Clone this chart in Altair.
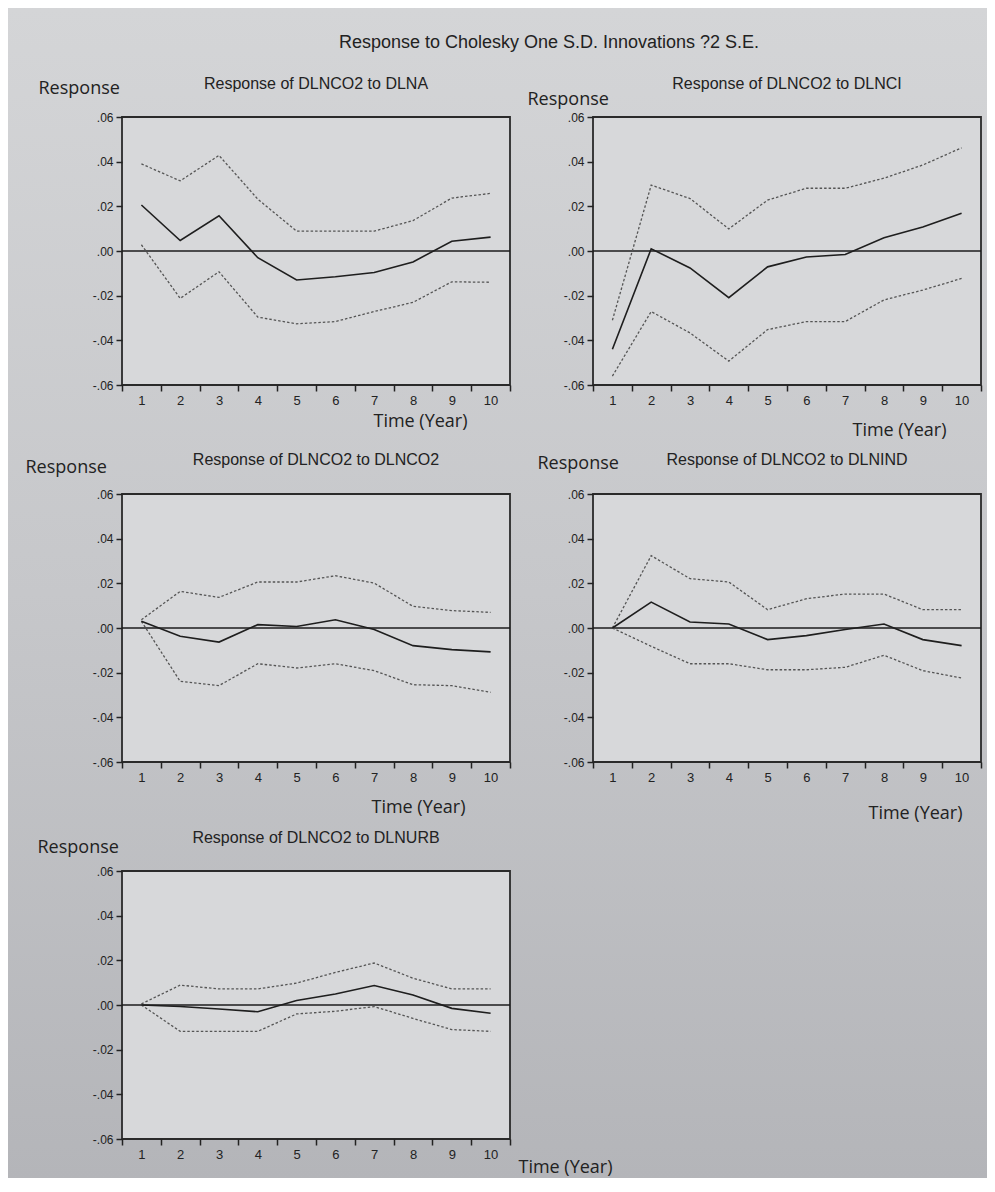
import altair as alt
import pandas as pd

# ---------------- data ----------------
periods = [1, 2, 3, 4, 5, 6, 7, 8, 9, 10]

panel_titles = [
    "Response of DLNCO2 to DLNA",
    "Response of DLNCO2 to DLNCI",
    "Response of DLNCO2 to DLNCO2",
    "Response of DLNCO2 to DLNIND",
    "Response of DLNCO2 to DLNURB",
]

na_resp = [0.0206, 0.0047, 0.0158, -0.0030, -0.0130, -0.0115, -0.0096, -0.0049, 0.0044, 0.0062]
na_up = [0.0390, 0.0314, 0.0428, 0.0232, 0.0089, 0.0089, 0.0089, 0.0136, 0.0237, 0.0258]
na_lo = [0.0028, -0.0212, -0.0093, -0.0296, -0.0326, -0.0316, -0.0271, -0.0230, -0.0138, -0.0140]

ci_resp = [-0.0440, 0.0010, -0.0076, -0.0209, -0.0071, -0.0027, -0.0016, 0.0059, 0.0107, 0.0169]
ci_up = [-0.0310, 0.0295, 0.0235, 0.0099, 0.0228, 0.0281, 0.0281, 0.0326, 0.0385, 0.0462]
ci_lo = [-0.0560, -0.0271, -0.0367, -0.0493, -0.0352, -0.0316, -0.0316, -0.0219, -0.0175, -0.0123]

co2_resp = [0.0030, -0.0037, -0.0063, 0.0015, 0.0007, 0.0037, -0.0007, -0.0079, -0.0097, -0.0107]
co2_up = [0.0037, 0.0164, 0.0137, 0.0206, 0.0206, 0.0234, 0.0201, 0.0097, 0.0078, 0.0070]
co2_lo = [0.0030, -0.0239, -0.0258, -0.0160, -0.0179, -0.0160, -0.0191, -0.0254, -0.0258, -0.0288]

ind_resp = [0.0000, 0.0116, 0.0027, 0.0018, -0.0052, -0.0034, -0.0007, 0.0018, -0.0052, -0.0079]
ind_up = [0.0000, 0.0324, 0.0221, 0.0206, 0.0082, 0.0131, 0.0152, 0.0152, 0.0082, 0.0082]
ind_lo = [0.0000, -0.0082, -0.0160, -0.0160, -0.0187, -0.0187, -0.0176, -0.0122, -0.0191, -0.0224]

urb_resp = [0.0000, -0.0007, -0.0018, -0.0030, 0.0020, 0.0049, 0.0087, 0.0045, -0.0015, -0.0037]
urb_up = [0.0005, 0.0089, 0.0072, 0.0072, 0.0098, 0.0146, 0.0188, 0.0120, 0.0072, 0.0072]
urb_lo = [0.0000, -0.0118, -0.0118, -0.0118, -0.0040, -0.0028, -0.0007, -0.0060, -0.0110, -0.0118]

y_ticks = [-0.06, -0.04, -0.02, 0.0, 0.02, 0.04, 0.06]

main_title = "Response to Cholesky One S.D. Innovations ?2 S.E."
y_title = "Response"
x_title = "Time (Year)"

responses = [na_resp, ci_resp, co2_resp, ind_resp, urb_resp]
uppers = [na_up, ci_up, co2_up, ind_up, urb_up]
lowers = [na_lo, ci_lo, co2_lo, ind_lo, urb_lo]

# ---------------- layout / style ----------------
W, H = 388, 268
ROW_GAP, COL_GAP = 109, 83
BG_W, BG_H = 979, 1170          # backdrop size (keeps the page from overflowing)
TXT = "#222222"
PLOT_BG = "#d7d8da"
# axis-title placements per panel (relative to axis groups)
y_title_pos = [(-84, -29), (-66, -18), (-97, -27), (-56, -31), (-85, -24)]
x_title_pos = [(298, 36), (306, 45), (296, 45), (322, 51), (443, 28)]
title_offsets = [33, 33, 34, 34, 33]

one = pd.DataFrame({"k": [0]})


def make_panel(i):
    df_resp = pd.DataFrame({"t": periods, "value": responses[i]})
    df_band = pd.DataFrame(
        {
            "t": periods + periods,
            "value": uppers[i] + lowers[i],
            "band": ["upper"] * len(periods) + ["lower"] * len(periods),
        }
    )
    tx, ty = x_title_pos[i]
    yx, yy = y_title_pos[i]
    x_enc = alt.X(
        "t:O",
        scale=alt.Scale(type="band", paddingInner=0, paddingOuter=0),
        axis=alt.Axis(
            title=x_title,
            titleX=tx,
            titleY=ty,
            titleAlign="center",
            titleBaseline="middle",
            titleAngle=0,
            labelAngle=0,
            labelFont="Liberation Sans",
            labelFontSize=13,
            labelPadding=3,
            tickBand="extent",
            zindex=2,
        ),
    )
    y_enc = alt.Y(
        "value:Q",
        scale=alt.Scale(domain=[-0.06, 0.06], nice=False, zero=False),
        axis=alt.Axis(
            title=y_title,
            values=y_ticks,
            labelExpr="(datum.value < -0.0001 ? '-' : '') + replace(format(abs(datum.value), '.2f'), '0.', '.')",
            labelFont="Liberation Sans",
            labelFontSize=12,
            labelPadding=3,
            titleAngle=0,
            titleX=yx,
            titleY=yy,
            titleAlign="left",
            titleBaseline="middle",
            zindex=2,
        ),
    )

    layers = []
    if i == 0:
        # whole-figure gradient backdrop (decorative)
        layers.append(
            alt.Chart(one)
            .mark_rect(
                clip=False,
                fill=alt.Gradient(
                    gradient="linear",
                    stops=[
                        alt.GradientStop(color="#d4d5d7", offset=0),
                        alt.GradientStop(color="#c6c7ca", offset=0.5),
                        alt.GradientStop(color="#b4b5b9", offset=1),
                    ],
                    x1=0, x2=0, y1=0, y2=1,
                ),
            )
            .encode(
                x=alt.value(-114), x2=alt.value(BG_W - 114),
                y=alt.value(-109), y2=alt.value(BG_H - 109),
            )
        )
    frame = (
        alt.Chart(one)
        .mark_rect(fill=PLOT_BG, stroke="#2a2a2a", strokeWidth=1.8)
        .encode(x=alt.value(0), x2=alt.value(W), y=alt.value(0), y2=alt.value(H))
    )
    zero = alt.Chart(one).mark_rule(color="#1c1c1c", strokeWidth=1.6).encode(y=alt.datum(0))
    bands = (
        alt.Chart(df_band)
        .mark_line(color="#555555", strokeWidth=1.3, strokeDash=[2.5, 2])
        .encode(x=x_enc, y=y_enc, detail="band:N")
    )
    resp = (
        alt.Chart(df_resp)
        .mark_line(color="#1e1e1e", strokeWidth=1.6)
        .encode(x=x_enc, y=y_enc)
    )
    ptitle = (
        alt.Chart(one)
        .mark_text(font="Liberation Sans", fontSize=16, color=TXT, align="center", baseline="middle")
        .encode(x=alt.value(W / 2), y=alt.value(-title_offsets[i]), text=alt.value(panel_titles[i]))
    )
    layers += [frame, zero, bands, resp, ptitle]
    if i == 0:
        layers.append(
            alt.Chart(one)
            .mark_text(font="Liberation Sans", fontSize=18, color=TXT, align="center", baseline="middle")
            .encode(x=alt.value(427), y=alt.value(-74), text=alt.value(main_title))
        )
    return alt.layer(*layers).properties(width=W, height=H)


panels = [make_panel(i) for i in range(5)]

chart = (
    alt.concat(*panels, columns=2, spacing={"row": ROW_GAP, "column": COL_GAP}, bounds="flush")
    .properties(padding=0, background="#c6c7ca")
    .configure_view(strokeWidth=0)
    .configure_axis(
        domain=False,
        grid=False,
        tickColor="#222222",
        tickWidth=1.5,
        tickSize=6,
        labelColor=TXT,
        titleColor=TXT,
        titleFont="Open Sans",
        titleFontSize=18,
        titleFontWeight="normal",
    )
)

chart.save("out.html", embed_options={"renderer": "svg", "actions": False})
